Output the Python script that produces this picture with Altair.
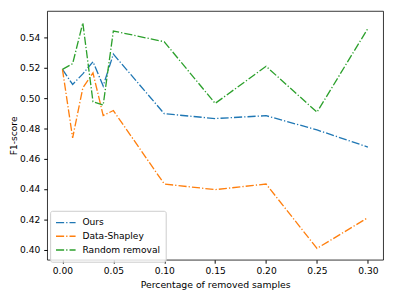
import altair as alt
import pandas as pd

x_vals = [0.0, 0.01, 0.02, 0.03, 0.04, 0.05, 0.10, 0.15, 0.20, 0.25, 0.30]
ours = [0.519, 0.509, 0.516, 0.524, 0.508, 0.529, 0.4897, 0.4865, 0.4884, 0.4790, 0.4677]
shapley = [0.519, 0.4737, 0.5067, 0.5166, 0.4885, 0.4918, 0.4433, 0.4396, 0.4433, 0.4008, 0.4211]
random_removal = [0.519, 0.5227, 0.5496, 0.4976, 0.4954, 0.5443, 0.5372, 0.4965, 0.5210, 0.4907, 0.5460]
series_names = ["Ours", "Data-Shapley", "Random removal"]
colors = ["#1f77b4", "#ff7f0e", "#2ca02c"]
x_ticks = [0.0, 0.05, 0.10, 0.15, 0.20, 0.25, 0.30]
y_ticks = [0.40, 0.42, 0.44, 0.46, 0.48, 0.50, 0.52, 0.54]

rows = []
for name, vals in zip(series_names, [ours, shapley, random_removal]):
    for i, (xv, yv) in enumerate(zip(x_vals, vals)):
        rows.append({"x": xv, "y": yv, "series": name, "order": i})
df = pd.DataFrame(rows)

dash = [8.3, 2.1, 1.3, 2.1]
font = "DejaVu Sans"
fs = 9.3

chart = alt.Chart(df).mark_line(strokeWidth=1.35, strokeDash=dash).encode(
    x=alt.X("x:Q", scale=alt.Scale(domain=[-0.015, 0.315], nice=False, zero=False),
            axis=alt.Axis(values=x_ticks, format=".2f", title="Percentage of removed samples",
                          grid=False, tickSize=3.5, tickColor="black", domain=False,
                          labelFont=font, labelFontSize=fs, labelColor="black", labelPadding=4,
                          titleFont=font, titleFontSize=9.5, titleFontWeight="normal",
                          titleColor="black", titlePadding=3)),
    y=alt.Y("y:Q", scale=alt.Scale(domain=[0.3933, 0.5575], nice=False, zero=False),
            axis=alt.Axis(values=y_ticks, format=".2f", title="F1-score",
                          grid=False, tickSize=3.5, tickColor="black", domain=False,
                          labelFont=font, labelFontSize=fs, labelColor="black", labelPadding=4,
                          titleFont=font, titleFontSize=fs, titleFontWeight="normal",
                          titleColor="black", titlePadding=1.5)),
    color=alt.Color("series:N", scale=alt.Scale(domain=series_names, range=colors),
                    legend=alt.Legend(title=None, orient="none", legendX=3, legendY=204,
                                      symbolType="stroke", symbolSize=400, symbolStrokeWidth=1.35,
                                      symbolDash=dash, labelFont=font, labelFontSize=fs,
                                      labelColor="black", labelOffset=6, rowPadding=0,
                                      clipHeight=14, padding=5,
                                      fillColor="rgba(255,255,255,0.8)",
                                      strokeColor="#cccccc", cornerRadius=2)),
    order="order:Q",
).properties(
    width=343, height=254,
    autosize=alt.AutoSizeParams(type="none"),
    padding={"left": 40, "top": 0, "right": 8, "bottom": 37},
).configure_view(stroke="black", strokeWidth=0.8)

chart.save("out.html", embed_options={"renderer": "svg", "actions": False})
